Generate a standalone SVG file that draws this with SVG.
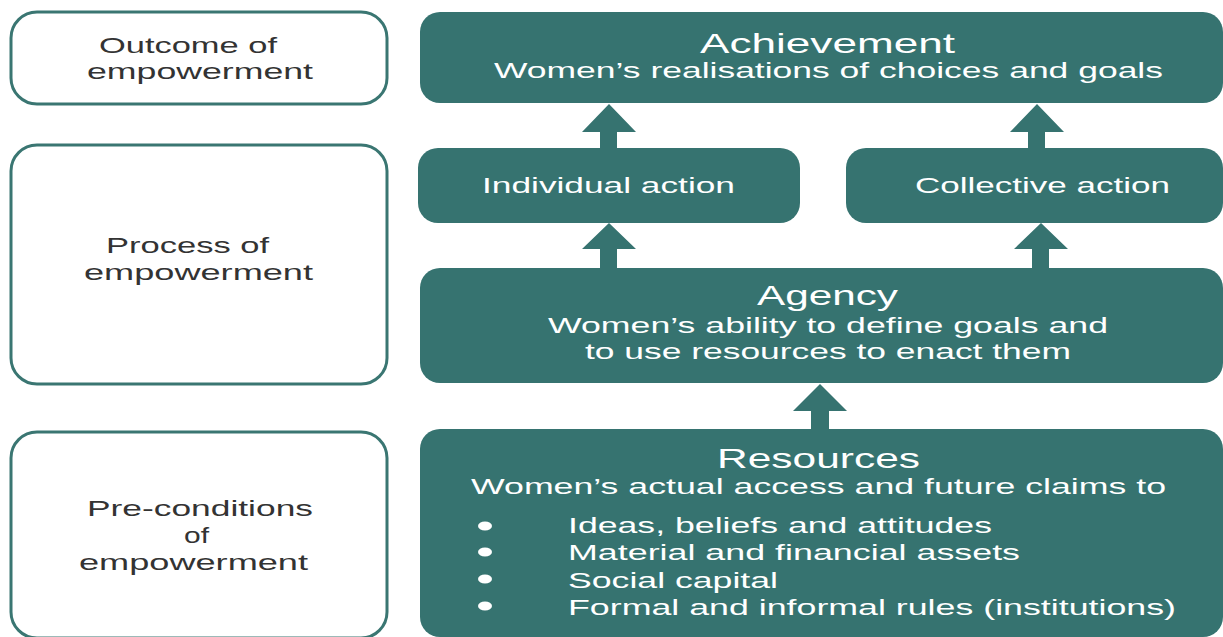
<svg xmlns="http://www.w3.org/2000/svg" width="1223" height="637" viewBox="0 0 1223 637">
<style>
.lbl{fill:#fff;stroke:#3a7672;stroke-width:3}
.box{fill:#367370}
.lt{font-family:"Liberation Sans",Arial,sans-serif;font-size:22px;fill:#333}
.h{font-family:"Liberation Sans",Arial,sans-serif;font-size:28px;fill:#fff}
.t{font-family:"Liberation Sans",Arial,sans-serif;font-size:22px;fill:#fff}
.arr{fill:#367370}
</style>
<rect width="1223" height="637" fill="#fff"/>
<g id="outcome">
<rect class="lbl" x="11" y="12" width="376" height="92" rx="26"/>
<text class="lt" x="99" y="53" textLength="178" lengthAdjust="spacingAndGlyphs">Outcome of</text>
<text class="lt" x="87" y="79" textLength="226" lengthAdjust="spacingAndGlyphs">empowerment</text>
</g>
<g id="process">
<rect class="lbl" x="11" y="145" width="376" height="239" rx="26"/>
<text class="lt" x="106" y="253" textLength="163" lengthAdjust="spacingAndGlyphs">Process of</text>
<text class="lt" x="84" y="280" textLength="229" lengthAdjust="spacingAndGlyphs">empowerment</text>
</g>
<g id="preconditions">
<rect class="lbl" x="11" y="432" width="376" height="206" rx="26"/>
<text class="lt" x="87" y="516" textLength="226" lengthAdjust="spacingAndGlyphs">Pre-conditions</text>
<text class="lt" x="184" y="543" textLength="25" lengthAdjust="spacingAndGlyphs">of</text>
<text class="lt" x="79" y="570" textLength="229" lengthAdjust="spacingAndGlyphs">empowerment</text>
</g>
<g id="achievement">
<rect class="box" x="420" y="12" width="803" height="91" rx="20"/>
<text class="h" x="700" y="53" textLength="255" lengthAdjust="spacingAndGlyphs">Achievement</text>
<text class="t" x="494" y="78" textLength="669" lengthAdjust="spacingAndGlyphs">Women’s realisations of choices and goals</text>
</g>
<g id="individual">
<rect class="box" x="418" y="148" width="382" height="75" rx="20"/>
<text class="t" x="482" y="193" textLength="253" lengthAdjust="spacingAndGlyphs">Individual action</text>
</g>
<g id="collective">
<rect class="box" x="846" y="148" width="377" height="75" rx="20"/>
<text class="t" x="915" y="193" textLength="255" lengthAdjust="spacingAndGlyphs">Collective action</text>
</g>
<g id="agency">
<rect class="box" x="420" y="268" width="803" height="115" rx="20"/>
<text class="h" x="757" y="305" textLength="141" lengthAdjust="spacingAndGlyphs">Agency</text>
<text class="t" x="548" y="333" textLength="560" lengthAdjust="spacingAndGlyphs">Women’s ability to define goals and</text>
<text class="t" x="585" y="359" textLength="486" lengthAdjust="spacingAndGlyphs">to use resources to enact them</text>
</g>
<g id="resources">
<rect class="box" x="420" y="429" width="803" height="208" rx="20"/>
<text class="h" x="717" y="468" textLength="203" lengthAdjust="spacingAndGlyphs">Resources</text>
<text class="t" x="471" y="494" textLength="695" lengthAdjust="spacingAndGlyphs">Women’s actual access and future claims to</text>
<g fill="#fff">
<ellipse cx="485" cy="526" rx="7" ry="4.5"/>
<ellipse cx="485" cy="552" rx="7" ry="4.5"/>
<ellipse cx="485" cy="579" rx="7" ry="4.5"/>
<ellipse cx="485" cy="606" rx="7" ry="4.5"/>
</g>
<text class="t" x="568" y="533" textLength="424" lengthAdjust="spacingAndGlyphs">Ideas, beliefs and attitudes</text>
<text class="t" x="568" y="560" textLength="452" lengthAdjust="spacingAndGlyphs">Material and financial assets</text>
<text class="t" x="568" y="588" textLength="210" lengthAdjust="spacingAndGlyphs">Social capital</text>
<text class="t" x="568" y="615" textLength="608" lengthAdjust="spacingAndGlyphs">Formal and informal rules (institutions)</text>
</g>
<g id="connectors">
<polygon class="arr" points="609,104 636,132 617,132 617,148 600,148 600,132 582,132"/>
<polygon class="arr" points="1037,104 1064,132 1045,132 1045,148 1028,148 1028,132 1010,132"/>
<polygon class="arr" points="609,223 636,249 617,249 617,268 600,268 600,249 582,249"/>
<polygon class="arr" points="1041,223 1068,249 1049,249 1049,268 1032,268 1032,249 1014,249"/>
<polygon class="arr" points="820,384 847,411 829,411 829,429 811,429 811,411 793,411"/>
</g>
</svg>
